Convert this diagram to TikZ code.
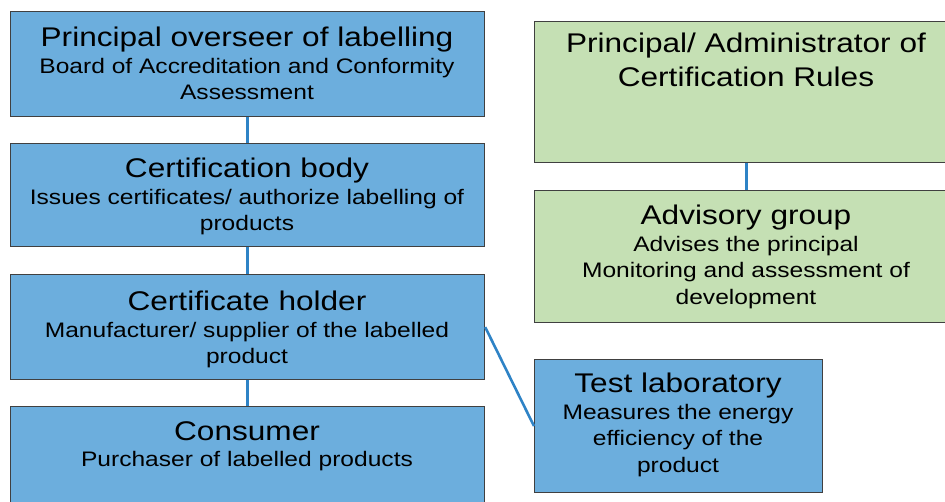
\documentclass[tikz,border=0pt]{standalone}
\usepackage{fontspec}
\setmainfont{Liberation Sans}[FakeStretch=1.17]
\definecolor{boxblue}{RGB}{108,174,221}
\definecolor{boxgreen}{RGB}{197,224,180}
\definecolor{boxedge}{RGB}{64,64,64}
\definecolor{linkblue}{RGB}{46,131,198}
\tikzset{
  panel/.style={draw=boxedge, line width=1.2pt, anchor=north west, inner sep=0pt},
  bluepanel/.style={panel, fill=boxblue},
  greenpanel/.style={panel, fill=boxgreen},
  paneltext/.style={anchor=north, inner sep=0pt, align=center, text=black,
    font=\fontsize{21}{26.5}\selectfont},
  link/.style={draw=linkblue, line width=2.6pt},
}
\newcommand{\ttl}[1]{{\fontsize{27}{27}\selectfont #1}}
\begin{document}
\begin{tikzpicture}[x=1pt,y=-1pt]
\useasboundingbox (0,0) rectangle (945,501);
\clip (0,0) rectangle (945,501);
% blue column
\node[bluepanel, minimum width=474pt, minimum height=105pt] (b1) at (10,11) {};
\node[bluepanel, minimum width=474pt, minimum height=103pt] (b2) at (10,143) {};
\node[bluepanel, minimum width=474pt, minimum height=105pt] (b3) at (10,274) {};
\node[bluepanel, minimum width=474pt, minimum height=110pt] (b4) at (10,406) {};
% green column
\node[greenpanel, minimum width=424pt, minimum height=141pt] (g1) at (534,21) {};
\node[greenpanel, minimum width=424pt, minimum height=132pt] (g2) at (534,190) {};
% test lab
\node[bluepanel, minimum width=288pt, minimum height=133pt] (lab) at (534,359) {};
% connectors
\draw[link] (b1.south) -- (b2.north);
\draw[link] (b2.south) -- (b3.north);
\draw[link] (b3.south) -- (b4.north);
\draw[link] (g1.south) -- (g2.north);
\draw[link] (b3.east) -- (lab.west);
% texts
\node[paneltext] (t1) at (247,27) {\ttl{Principal overseer of labelling}\\Board of Accreditation and Conformity\\Assessment};
\node[paneltext] (t2) at (247,158) {\ttl{Certification body}\\Issues certificates/ authorize labelling of\\products};
\node[paneltext] (t3) at (247,291) {\ttl{Certificate holder}\\Manufacturer/ supplier of the labelled\\product};
\node[paneltext] (t4) at (247,421) {\ttl{Consumer}\\Purchaser of labelled products};
\node[paneltext, font=\fontsize{27}{33.5}\selectfont] (t5) at (746,33) {Principal/ Administrator of\\Certification Rules};
\node[paneltext] (t6) at (746,205) {\ttl{Advisory group}\\Advises the principal\\Monitoring and assessment of\\development};
\node[paneltext] (t7) at (678,373) {\ttl{Test laboratory}\\Measures the energy\\efficiency of the\\product};
\end{tikzpicture}
\end{document}
